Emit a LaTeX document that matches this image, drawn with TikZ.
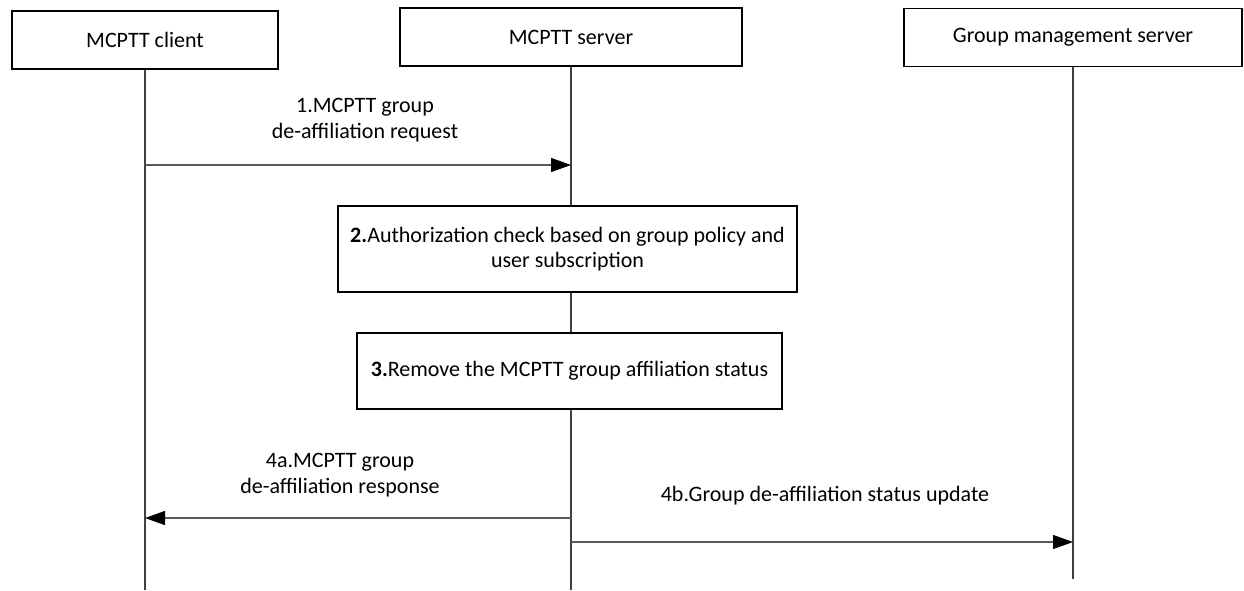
\documentclass[tikz,border=0pt]{standalone}
\usepackage{fontspec}
\setmainfont{Carlito}
\usetikzlibrary{arrows.meta,positioning}
\tikzset{
	entity/.style={draw, line width=1.3pt, minimum height=43.5pt, inner sep=0pt, align=center},
	action/.style={draw, fill=white, line width=1.3pt, inner sep=0pt, align=center},
	lifeline/.style={draw=black!75, line width=0.8pt},
	msg/.style={-{Triangle[length=15pt,width=10.5pt,color=black]}, draw=black!65, line width=0.9pt},
	msgtext/.style={align=center}
}
\begin{document}
\begin{tikzpicture}[x=0.75pt, y=-0.75pt, font=\fontsize{16.5}{19}\selectfont]
	\useasboundingbox (0,0) rectangle (1244,590);
	\node[entity, minimum width=199.5pt] (client) at (145,40) {MCPTT client};
	\node[entity, minimum width=256pt] (server) at (571,37) {MCPTT server};
	\node[entity, minimum width=253pt] (gms) at (1073,37.5) {Group management server};

	\coordinate (client-end) at (145,590);
	\coordinate (server-end) at (571,590);
	\coordinate (gms-end) at (1073,579);
	\draw[lifeline] (client.south) -- (client-end);
	\draw[lifeline] (server.south) -- (server-end);
	\draw[lifeline] (gms.south) -- (gms-end);

	\node[action, minimum width=344pt, minimum height=64.5pt] (check) at (567.5,249)
	{\textbf{2.}Authorization check based on group policy and\\user subscription};
	\node[action, minimum width=319pt, minimum height=57pt] (remove) at (569.5,371)
	{\textbf{3.}Remove the MCPTT group affiliation status};

	\draw[msg] (client |- 0,165) -- (server |- 0,165);
	\node[msgtext] (req) at (365,120) {1.MCPTT group\\de-affiliation request};

	\draw[msg] (server |- 0,518) -- (client |- 0,518);
	\node[msgtext] (resp) at (340,475) {4a.MCPTT group\\de-affiliation response};

	\draw[msg] (server |- 0,542) -- (gms |- 0,542);
	\node[msgtext] (upd) at (825,496) {4b.Group de-affiliation status update};
\end{tikzpicture}
\end{document}
